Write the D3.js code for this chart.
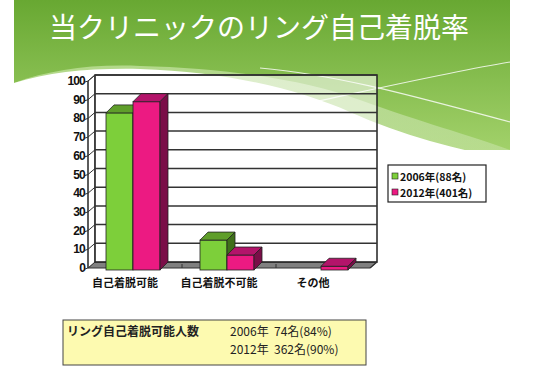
<!DOCTYPE html>
<html><head><meta charset="utf-8">
<script src="https://cdn.jsdelivr.net/npm/d3@7"></script>
<style>body{margin:0;background:#fff}svg{display:block}</style>
</head><body><svg id="c" width="550" height="366"></svg>
<script>
const categories = ["自己着脱可能", "自己着脱不可能", "その他"];
const seriesNames = ["2006年(88名)", "2012年(401名)"];
const values2006 = [84, 16, 0];
const values2012 = [90, 8, 2];
const yTicks = [0, 10, 20, 30, 40, 50, 60, 70, 80, 90, 100];
const title = "当クリニックのリング自己着脱率";
const noteLabel = "リング自己着脱可能人数";
const noteLines = ["2006年  74名(84%)", "2012年  362名(90%)"];

const svg = d3.select("#c");
const defs = svg.append("defs");
const g1 = defs.append("linearGradient").attr("id","hg").attr("x1",0).attr("y1",0).attr("x2",0).attr("y2",1);
g1.append("stop").attr("offset","0%").attr("stop-color","#68a832");
g1.append("stop").attr("offset","100%").attr("stop-color","#a2d16a");
const g2 = defs.append("linearGradient").attr("id","lg").attr("x1",0).attr("y1",0).attr("x2",1).attr("y2",1);
g2.append("stop").attr("offset","0%").attr("stop-color","#b7dc8e").attr("stop-opacity",0.9);
g2.append("stop").attr("offset","100%").attr("stop-color","#e8f4dc").attr("stop-opacity",0.3);

// header
svg.append("rect").attr("x",14).attr("y",0).attr("width",496).attr("height",150).attr("fill","url(#hg)");
svg.append("path").attr("d","M14,150 L14,83 C50,70 90,64 140,66 C220,68 300,78 360,100 C420,122 470,135 510,150 Z").attr("fill","url(#lg)");
svg.append("path").attr("d","M14,160 L14,83 C50,72 90,68 140,69 C230,72 300,90 350,112 C400,135 460,150 510,160 Z").attr("fill","#fff");
svg.append("path").attr("d","M260,68 C340,75 420,98 510,122").attr("fill","none").attr("stroke","#fff").attr("stroke-width",1.2).attr("opacity",0.8);
svg.append("path").attr("d","M300,105 C380,88 450,72 510,62").attr("fill","none").attr("stroke","#fff").attr("stroke-width",1.2).attr("opacity",0.8);
svg.append("rect").attr("x",0).attr("y",150).attr("width",550).attr("height",220).attr("fill","#fff");

svg.append("text").attr("x",259).attr("y",38).attr("text-anchor","middle")
  .attr("font-family","'Noto Sans CJK JP'").attr("font-size",28).attr("fill","#fff").text(title);

// chart geometry
const dx = 7, dy = -6;
const yB = d3.scaleLinear().domain([0,100]).range([262,75]);
const yF = v => yB(v) - dy;
const x0 = d3.scaleBand().domain(categories).range([86,368]);
const x1 = d3.scaleBand().domain(seriesNames).range([0, 54]);
const xL = 88, xR = 370;

// floor
svg.append("path").attr("d",`M${xL},${yF(0)} L${xR},${yF(0)} L${xR+dx},${yB(0)} L${xL+dx},${yB(0)} Z`)
  .attr("fill","#808080").attr("stroke","#333").attr("stroke-width",1);
// left wall
svg.append("path").attr("d",`M${xL},${yF(0)} L${xL},${yF(100)} L${xL+dx},${yB(100)} L${xL+dx},${yB(0)} Z`)
  .attr("fill","#fff").attr("stroke","#333").attr("stroke-width",1);
// back wall
svg.append("rect").attr("x",xL+dx).attr("y",yB(100)).attr("width",xR-xL).attr("height",yB(0)-yB(100))
  .attr("fill","#fff").attr("fill-opacity",0.55).attr("stroke","#222").attr("stroke-width",1.5);
// gridlines
yTicks.forEach(t => {
  if (t === 0) return;
  svg.append("line").attr("x1",xL+dx).attr("x2",xR+dx).attr("y1",yB(t)).attr("y2",yB(t)).attr("stroke","#333").attr("stroke-width",1.5);
  svg.append("line").attr("x1",xL).attr("x2",xL+dx).attr("y1",yF(t)).attr("y2",yB(t)).attr("stroke","#333").attr("stroke-width",1);
});
// front axis
svg.append("line").attr("x1",xL).attr("x2",xL).attr("y1",yF(0)).attr("y2",yF(100)).attr("stroke","#333").attr("stroke-width",1.2);
svg.append("line").attr("x1",xR).attr("x2",xR+dx).attr("y1",yF(0)).attr("y2",yB(0)).attr("stroke","#333").attr("stroke-width",1.2);
yTicks.forEach(t => {
  svg.append("line").attr("x1",xL-3).attr("x2",xL).attr("y1",yF(t)+1).attr("y2",yF(t)).attr("stroke","#333");
  svg.append("text").attr("x",xL-3).attr("y",yF(t)+4).attr("text-anchor","end")
    .attr("font-family","'Liberation Sans Narrow','Liberation Sans',Arial").attr("font-weight","bold").attr("font-size",12)
    .attr("letter-spacing",-0.8).attr("fill","#111").text(t);
});
// category ticks
categories.slice(1).forEach(c => {
  svg.append("line").attr("x1",x0(c)+2).attr("x2",x0(c)+2).attr("y1",yF(0)).attr("y2",yF(0)-4).attr("stroke","#333");
});

// bars
const bd = 8;
const colors = {front:["#7dcf3a","#ec1a82"], top:["#5f9e2a","#b3146a"], side:["#3f6f1a","#7a0e48"]};
const bars = [];
categories.forEach((c,i) => {
  [values2006[i], values2012[i]].forEach((v,s) => bars.push({c, s, v}));
});
const bx = d => x0(d.c) + (x0.bandwidth()-54)/2 + x1(seriesNames[d.s]);
const bw = x1.bandwidth();
const gb = svg.append("g");
bars.filter(d => d.v > 0).forEach(d => {
  const x = bx(d), yt = yB(d.v) + bd, yb = yB(0) + bd;
  gb.append("rect").attr("x",x).attr("y",yt).attr("width",bw).attr("height",yb-yt)
    .attr("fill",colors.front[d.s]).attr("stroke","#222").attr("stroke-width",0.8);
  gb.append("path").attr("d",`M${x},${yt} L${x+bd},${yt-bd} L${x+bw+bd},${yt-bd} L${x+bw},${yt} Z`)
    .attr("fill",colors.top[d.s]).attr("stroke","#222").attr("stroke-width",0.8);
  gb.append("path").attr("d",`M${x+bw},${yt} L${x+bw+bd},${yt-bd} L${x+bw+bd},${yb-bd} L${x+bw},${yb} Z`)
    .attr("fill",colors.side[d.s]).attr("stroke","#222").attr("stroke-width",0.8);
});

// category labels
categories.forEach(c => {
  svg.append("text").attr("x",x0(c)+x0.bandwidth()/2-8).attr("y",287).attr("text-anchor","middle")
    .attr("font-family","'Noto Sans CJK JP'").attr("font-weight","bold").attr("font-size",11).attr("fill","#111").text(c);
});

// legend
svg.append("rect").attr("x",388).attr("y",165).attr("width",98).attr("height",37).attr("fill","#fff").attr("stroke","#222").attr("stroke-width",1.2);
seriesNames.forEach((n,i) => {
  const y = 177 + i*16;
  svg.append("rect").attr("x",392).attr("y",y-4).attr("width",6).attr("height",6).attr("fill",colors.front[i]).attr("stroke","#222").attr("stroke-width",0.6);
  svg.append("text").attr("x",400).attr("y",y+4).attr("font-family","'Noto Sans CJK JP'").attr("font-weight","bold")
    .attr("font-size",10.5).attr("fill","#111").text(n);
});

// note box
svg.append("rect").attr("x",63).attr("y",320).attr("width",303).attr("height",45).attr("fill","#fdfab0").attr("stroke","#444").attr("stroke-width",1);
svg.append("text").attr("x",67).attr("y",336).attr("font-family","'Noto Sans CJK JP'").attr("font-weight","bold")
  .attr("font-size",12).attr("fill","#222").text(noteLabel);
noteLines.forEach((t,i) => {
  svg.append("text").attr("x",230).attr("y",336+i*18).attr("font-family","'Noto Sans CJK JP'")
    .attr("font-size",12).attr("fill","#222").attr("xml:space","preserve").style("white-space","pre").text(t);
});
</script></body></html>
